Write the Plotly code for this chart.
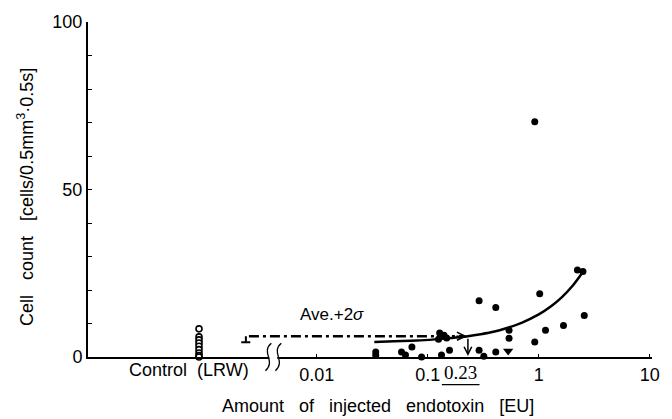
import numpy as np
import plotly.graph_objects as go

# ---------------- data ----------------
control_pos = 0.00087            # x position used for the Control (LRW) group
control_y = [8.4, 6.0, 5.1, 4.2, 3.2, 2.2, 1.2, 0.4, 0.0]

dose_x = [0.034, 0.034, 0.058, 0.063, 0.072, 0.088, 0.128, 0.14, 0.148, 0.125,
          0.133, 0.157, 0.29, 0.32, 0.41, 0.29, 0.41, 0.54, 0.54, 0.92,
          1.15, 1.02, 0.92, 1.67, 2.23, 2.5, 2.57]
dose_y = [1.5, 0.5, 1.5, 0.6, 3.0, 0.0, 7.2, 6.5, 5.7, 5.3,
          0.6, 2.0, 2.0, 0.2, 1.5, 16.8, 14.8, 8.0, 5.6, 4.5,
          8.0, 18.9, 70.2, 9.4, 26.0, 25.5, 12.4]
tri_x = [0.53]
tri_y = [1.8]

fit_x = [0.033, 0.05, 0.08, 0.12, 0.18, 0.23, 0.3, 0.4, 0.5, 0.7, 1.0, 1.3, 1.6, 2.0, 2.45]
fit_y = [4.5, 4.7, 4.9, 5.3, 5.8, 6.2, 6.8, 7.6, 8.5, 10.2, 12.7, 15.2, 17.7, 21.1, 25.0]

ave2s_y = 6.2
ave2s_x = [0.00245, 0.215]
cap_x = [0.00209, 0.00252]
cap_stem_x = 0.0023
cap_low_y = 4.4
thresh_x = 0.23

x_tickvals = [0.01, 0.1, 1, 10]
x_ticktext = ["0.01", "0.1", "1", "10"]
y_tickvals = list(range(0, 101, 10))
y_ticktext = ["0", "", "", "", "", "50", "", "", "", "", "100"]

# ---------------- layout geometry helpers ----------------
L, R, T, B = 88, 15, 17, 62
W, H = 672, 419
PW, PH = W - L - R, H - T - B


def px(xp):
    return (xp - L) / PW


def py(yp):
    return (H - B - yp) / PH


FONT = "Liberation Sans, Arial, sans-serif"
SP = "\u00a0\u00a0\u00a0"

fig = go.Figure()

# fitted curve
fig.add_trace(go.Scatter(x=fit_x, y=fit_y, mode="lines", line=dict(color="black", width=2.5, shape="spline"),
                         hoverinfo="skip", showlegend=False))

# Ave.+2σ dash-dot line
fig.add_trace(go.Scatter(x=ave2s_x, y=[ave2s_y, ave2s_y], mode="lines",
                         line=dict(color="black", width=2.5, dash="10px,4px,3px,4px"),
                         showlegend=False, hoverinfo="skip"))
# cap at its start
fig.add_trace(go.Scatter(x=cap_x, y=[cap_low_y, cap_low_y], mode="lines",
                         line=dict(color="black", width=2), showlegend=False, hoverinfo="skip"))
fig.add_trace(go.Scatter(x=[cap_stem_x, cap_stem_x], y=[cap_low_y, ave2s_y], mode="lines",
                         line=dict(color="black", width=2), showlegend=False, hoverinfo="skip"))

# control (open circles)
fig.add_trace(go.Scatter(x=[control_pos] * len(control_y), y=control_y, mode="markers",
                         marker=dict(symbol="circle", size=6, color="white", line=dict(color="black", width=1.6)),
                         cliponaxis=False, showlegend=False))

# endotoxin samples (filled dots)
fig.add_trace(go.Scatter(x=dose_x, y=dose_y, mode="markers",
                         marker=dict(symbol="circle", size=7, color="black"),
                         cliponaxis=False, showlegend=False))
fig.add_trace(go.Scatter(x=tri_x, y=tri_y, mode="markers",
                         marker=dict(symbol="triangle-down", size=9, color="black"),
                         cliponaxis=False, showlegend=False))

annotations = []
# arrow head of the Ave.+2σ line
annotations.append(dict(x=np.log10(ave2s_x[1]) + 0.02, y=ave2s_y, xref="x", yref="y", ax=-12, ay=0,
                        showarrow=True, arrowhead=5, arrowsize=1, arrowwidth=1.6, arrowcolor="black", text=""))
# threshold arrow at 0.23
annotations.append(dict(x=np.log10(thresh_x), y=0.3, xref="x", yref="y",
                        ax=np.log10(thresh_x), ay=ave2s_y - 0.3, axref="x", ayref="y",
                        showarrow=True, arrowhead=5, arrowsize=1, arrowwidth=1.5, arrowcolor="black", text=""))
annotations.append(dict(x=np.log10(thresh_x), y=py(373), xref="x", yref="paper", xshift=-7,
                        xanchor="center", yanchor="middle",
                        text="0.23", showarrow=False, font=dict(family="Liberation Serif, serif", size=19, color="black")))
annotations.append(dict(x=px(334), y=py(314), xref="paper", yref="paper", text="Ave.+2<i>σ</i>",
                        xanchor="center", yanchor="middle",
                        showarrow=False, font=dict(family=FONT, size=17, color="black")))
annotations.append(dict(x=np.log10(control_pos), y=py(370), xref="x", yref="paper", xshift=-10,
                        xanchor="center", yanchor="middle",
                        text="Control\u00a0\u00a0(LRW)", showarrow=False, font=dict(family=FONT, size=18, color="black")))
annotations.append(dict(x=px(381), y=py(407), xref="paper", yref="paper",
                        xanchor="center", yanchor="middle",
                        text=SP.join(["Amount", "of", "injected", "endotoxin", "[EU]"]),
                        showarrow=False, font=dict(family=FONT, size=18, color="black")))
annotations.append(dict(x=px(25), y=py(195), xref="paper", yref="paper", textangle=-90,
                        xanchor="center", yanchor="middle",
                        text="Cell" + SP + "count" + SP + "[cells/0.5mm<sup>3</sup>·0.5s]",
                        showarrow=False, font=dict(family=FONT, size=18, color="black")))

shapes = []
# underline of 0.23
shapes.append(dict(type="line", xref="paper", yref="paper", x0=px(445), x1=px(483), y0=py(385), y1=py(385),
                   line=dict(color="black", width=1.2)))
# axis break
shapes.append(dict(type="rect", xref="paper", yref="paper", x0=px(271), x1=px(279), y0=py(360), y1=py(354),
                   fillcolor="white", line=dict(width=0), layer="above"))
for dx in (0, 10):
    p = "M {:.4f},{:.4f} C {:.4f},{:.4f} {:.4f},{:.4f} {:.4f},{:.4f}".format(
        px(273 + dx), py(343), px(262 + dx), py(352), px(278 + dx), py(361), px(267 + dx), py(371))
    shapes.append(dict(type="path", xref="paper", yref="paper", path=p,
                       line=dict(color="black", width=1.3), layer="above"))

fig.update_layout(
    width=W, height=H,
    margin=dict(l=L, r=R, t=T, b=B),
    paper_bgcolor="white", plot_bgcolor="white",
    font=dict(family=FONT, size=16, color="black"),
    showlegend=False,
    annotations=annotations,
    shapes=shapes,
    xaxis=dict(type="log", range=[np.log10(control_pos) - 1.0, 1.02],
               showline=True, linecolor="black", linewidth=2, mirror=False,
               ticks="inside", ticklen=3, tickwidth=1.3, tickcolor="black",
               tickvals=x_tickvals, ticktext=x_ticktext, tickfont=dict(size=18),
               showgrid=False, zeroline=False),
    yaxis=dict(range=[0, 100], showline=True, linecolor="black", linewidth=2,
               ticks="inside", ticklen=4, tickwidth=1.3, tickcolor="black",
               tickvals=y_tickvals, ticktext=y_ticktext, tickfont=dict(size=18),
               showgrid=False, zeroline=False),
)

fig.write_html("out.html")
